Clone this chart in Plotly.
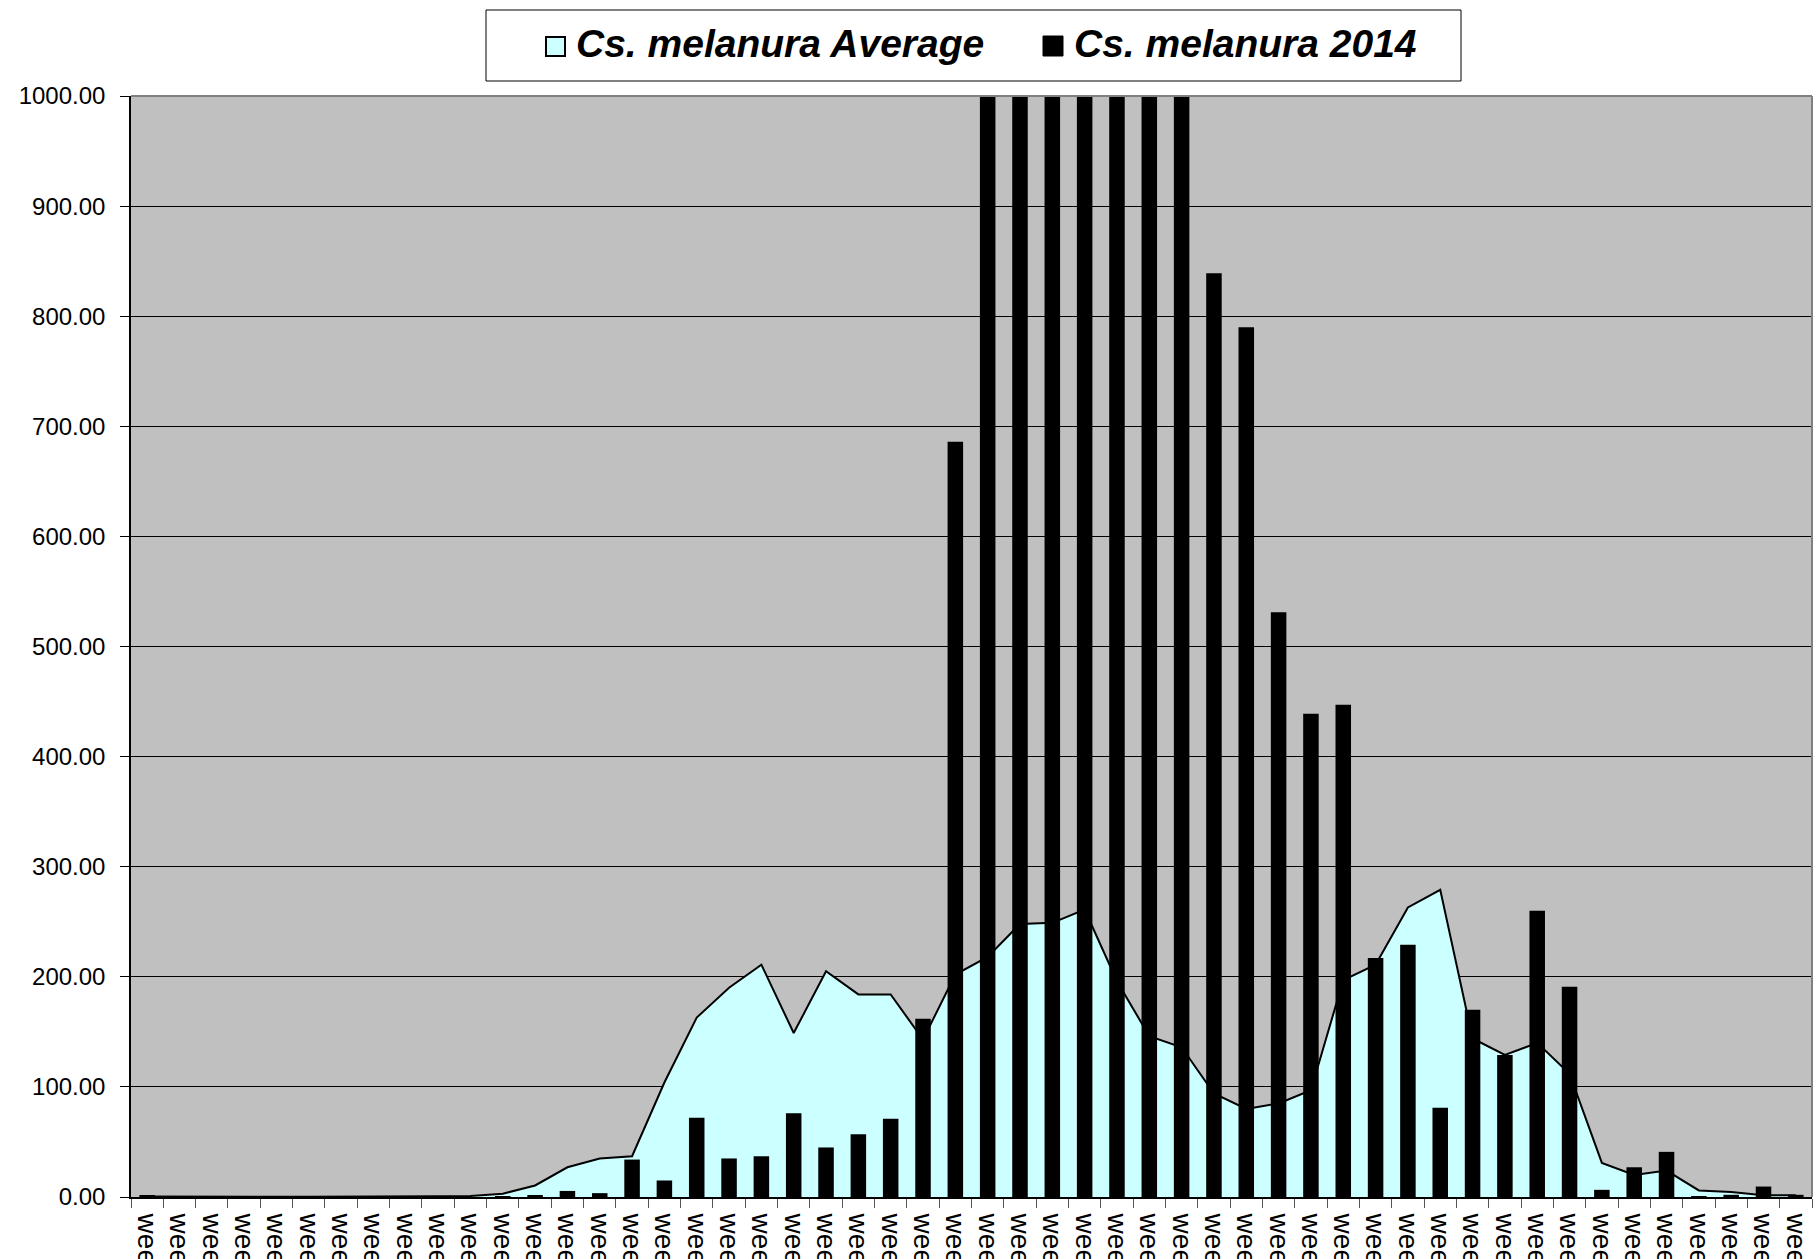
import plotly.graph_objects as go

weeks = [f"week {i}" for i in range(1, 53)]

avg_values = [0.5, 0.3, 0.3, 0.3, 0.3, 0.3, 0.3, 0.4, 0.4, 0.6, 1.0, 3.0,
              10.5, 27, 35, 37, 104, 163, 190, 211, 149, 205, 184, 184,
              143, 202, 218, 248, 249, 261, 196, 146, 136, 94, 80, 85,
              97, 197, 211, 263, 279, 144, 129, 140, 112, 31, 20, 24,
              6, 4.5, 1.5, 1.5]

y2014_values = [1.5, 0, 0, 0, 0, 0, 0, 0, 0, 0, 0, 0.5,
                1, 5.5, 3.5, 34, 15, 72, 35, 37, 76, 45, 57, 71,
                162, 686, 1250, 1830, 2410, 2930, 2260, 1650, 1180, 839, 790, 531,
                439, 447, 217, 229, 81, 170, 129, 260, 191, 6.5, 27, 41,
                0.5, 2, 9.5, 2]

y_ticks = [0, 100, 200, 300, 400, 500, 600, 700, 800, 900, 1000]

avg_name = "Cs. melanura Average"
y2014_name = "Cs. melanura 2014"

FONT = "Liberation Sans, Arial, sans-serif"
AVG_FILL = "#CCFFFF"

W, H = 1818, 1259
L, R, T, B = 131, 6, 96, 62
PW, PH = W - L - R, H - T - B


def px_x(x):
    return (x - L) / PW


def px_y(y):
    return 1 + (T - y) / PH


fig = go.Figure()
# area series (Average)
fig.add_trace(go.Scatter(
    x=weeks, y=avg_values, name=avg_name, legendgroup="avg",
    mode="lines", fill="tozeroy", fillcolor=AVG_FILL,
    line=dict(color="black", width=2), yaxis="y", showlegend=False,
))
# bar series (2014), drawn on an overlaying axis so it sits above the area
fig.add_trace(go.Bar(
    x=weeks, y=y2014_values, name=y2014_name, legendgroup="y2014",
    marker=dict(color="black", line=dict(width=0)), yaxis="y2", showlegend=False,
))
# legend entries (swatches drawn as shapes below)
fig.add_trace(go.Scatter(
    x=[None], y=[None], name=avg_name, legendgroup="avg", mode="markers",
    marker=dict(symbol="square", size=10, color="rgba(0,0,0,0)", line=dict(width=0)),
    showlegend=True,
))
fig.add_trace(go.Scatter(
    x=[None], y=[None], name=y2014_name, legendgroup="y2014", mode="markers",
    marker=dict(symbol="square", size=10, color="rgba(0,0,0,0)", line=dict(width=0)),
    showlegend=True,
))

fig.update_layout(
    template="none",
    width=W, height=H,
    margin=dict(l=L, r=R, t=T, b=B, autoexpand=False),
    paper_bgcolor="white",
    plot_bgcolor="#C0C0C0",
    bargap=0.52,
    font=dict(family=FONT, color="black"),
    showlegend=True,
    legend=dict(
        orientation="h", x=px_x(536), xanchor="left", y=1.078, yanchor="top",
        bgcolor="rgba(0,0,0,0)", borderwidth=0,
        font=dict(size=39, family=FONT, weight="bold", style="italic", color="black"),
        entrywidth=453, entrywidthmode="pixels",
        traceorder="normal", itemsizing="trace",
    ),
    xaxis=dict(
        type="category", categoryorder="array", categoryarray=weeks,
        tickmode="array", tickvals=weeks, ticktext=weeks,
        tickangle=90, tickfont=dict(size=28, family=FONT, color="black"),
        ticks="outside", tickson="boundaries", ticklen=9, tickcolor="#555555", tickwidth=1,
        ticklabelstandoff=9,
        showline=True, linecolor="black", linewidth=2,
        showgrid=False, automargin=False, zeroline=False,
        range=[-0.5, 51.5],
    ),
    yaxis=dict(
        range=[0, 1000], tickvals=y_ticks, tickformat=".2f",
        tickfont=dict(size=24, family=FONT, color="black"),
        ticks="outside", ticklen=9, tickcolor="black", tickwidth=1,
        showline=True, linecolor="black", linewidth=1.5,
        showgrid=True, gridcolor="black", gridwidth=1,
        zeroline=False, automargin=False, ticklabelstandoff=10,
    ),
    yaxis2=dict(
        range=[0, 1000], overlaying="y", side="left", visible=False,
        showgrid=False, zeroline=False,
    ),
    shapes=[
        # legend frame
        dict(type="rect", xref="paper", yref="paper",
             x0=px_x(486), x1=px_x(1461), y0=px_y(81), y1=px_y(10),
             fillcolor="white", line=dict(color="black", width=1), layer="below"),
        # legend swatches
        dict(type="rect", xref="paper", yref="paper",
             x0=px_x(546), x1=px_x(565), y0=px_y(56), y1=px_y(37),
             fillcolor=AVG_FILL, line=dict(color="black", width=2), layer="above"),
        dict(type="rect", xref="paper", yref="paper",
             x0=px_x(1043), x1=px_x(1063), y0=px_y(56), y1=px_y(36),
             fillcolor="black", line=dict(color="black", width=1), layer="above"),
        # plot-area border top/right
        dict(type="line", xref="paper", yref="paper", x0=0, x1=1, y0=1, y1=1,
             line=dict(color="#808080", width=2), layer="above"),
        dict(type="line", xref="paper", yref="paper", x0=1, x1=1, y0=0, y1=1,
             line=dict(color="#808080", width=2), layer="above"),
    ],
)

fig.write_html("out.html", config={"displayModeBar": False},
               post_script="document.body.style.margin='0';")
